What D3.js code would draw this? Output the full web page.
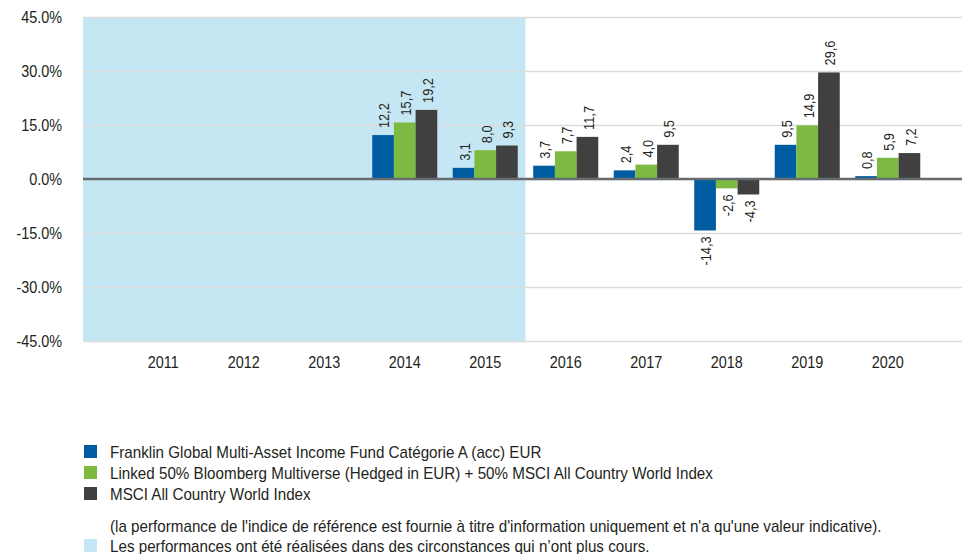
<!DOCTYPE html>
<html>
<head>
<meta charset="utf-8">
<script src="https://cdnjs.cloudflare.com/ajax/libs/d3/7.8.5/d3.min.js"></script>
<style>
	body { margin: 0; background: #fff; }
	text { font-family: "Liberation Sans", Arial, sans-serif; fill: #231f20; }
</style>
</head>
<body>
<svg></svg>
<script>
const years = ['2011', '2012', '2013', '2014', '2015', '2016', '2017', '2018', '2019', '2020'];
const fund = [null, null, null, 12.2, 3.1, 3.7, 2.4, -14.3, 9.5, 0.8];
const linked = [null, null, null, 15.7, 8.0, 7.7, 4.0, -2.6, 14.9, 5.9];
const msci = [null, null, null, 19.2, 9.3, 11.7, 9.5, -4.3, 29.6, 7.2];
const yTicks = [-45, -30, -15, 0, 15, 30, 45];
const shadedYears = ['2011', '2012', '2013', '2014', '2015'];

const seriesNames = [
	'Franklin Global Multi-Asset Income Fund Catégorie A (acc) EUR',
	'Linked 50% Bloomberg Multiverse (Hedged in EUR) + 50% MSCI All Country World Index',
	'MSCI All Country World Index'
];
const noteText = "(la performance de l'indice de référence est fournie à titre d'information uniquement et n'a qu'une valeur indicative).";
const shadeText = 'Les performances ont été réalisées dans des circonstances qui n’ont plus cours.';

const colors = ['#005ca1', '#7dba41', '#404040'];
const shadeColor = '#c5e7f3';

const svg = d3.select('svg')
	.attr('width', 962)
	.attr('height', 554);

const width = +svg.attr('width'),
	plotLeft = 83,
	plotRight = width,
	squeeze = 0.9, // axis text in the original is a bit condensed
	legendSqueeze = 0.95;

const series = [fund, linked, msci];
const data = years.map((year, i) => ({
	year,
	values: series.map((s, k) => ({ key: k, value: s[i] }))
}));

const fmt = v => d3.format('.1f')(v).replace('−', '-');

const xScale = d3.scaleBand()
	.domain(years)
	.range([plotLeft + 40, plotLeft + 40 + 80.5 * years.length]);

const xSub = d3.scaleBand()
	.domain([0, 1, 2])
	.range([0, xScale.bandwidth()])
	.paddingOuter(0.357);

const yScale = d3.scaleLinear()
	.domain([-45, 45])
	.range([341, 17]);

// shaded period
svg.append('rect')
	.attr('x', plotLeft)
	.attr('y', yScale(45))
	.attr('width', xScale(shadedYears[shadedYears.length - 1]) + xScale.bandwidth() - plotLeft)
	.attr('height', yScale(-45) - yScale(45))
	.attr('fill', shadeColor);

// grid + y labels
const yAxis = d3.axisLeft(yScale)
	.tickValues(yTicks)
	.tickFormat(d => fmt(d) + '%')
	.tickSize(-(plotRight - plotLeft));

const yAxisG = svg.append('g')
	.attr('transform', `translate(${plotLeft},0)`)
	.call(yAxis);
yAxisG.select('.domain').remove();
yAxisG.selectAll('.tick line')
	.attr('stroke', '#dcdcdc')
	.attr('stroke-width', 1.5);
yAxisG.selectAll('.tick text')
	.attr('x', -21 / squeeze)
	.attr('transform', `scale(${squeeze},1)`)
	.style('font-size', '16px')
	.attr('fill', '#231f20');

// bars
const groups = svg.selectAll('.year')
	.data(data)
	.join('g')
	.attr('class', 'year')
	.attr('transform', d => `translate(${xScale(d.year)},0)`);

const present = d => d.values.filter(v => v.value !== null);

groups.selectAll('rect')
	.data(present)
	.join('rect')
	.attr('x', v => xSub(v.key))
	.attr('width', xSub.bandwidth())
	.attr('y', v => yScale(Math.max(0, v.value)))
	.attr('height', v => Math.abs(yScale(v.value) - yScale(0)))
	.attr('fill', v => colors[v.key]);

groups.selectAll('text.val')
	.data(present)
	.join('text')
	.attr('class', 'val')
	.attr('transform', v => {
		const cx = xSub(v.key) + xSub.bandwidth() / 2 + 1;
		const cy = v.value >= 0 ? yScale(v.value) - 7 : yScale(v.value) + 6;
		return `translate(${cx},${cy}) rotate(-90) scale(0.85,1)`;
	})
	.attr('text-anchor', v => v.value >= 0 ? 'start' : 'end')
	.attr('dominant-baseline', 'central')
	.style('font-size', '15px')
	.text(v => fmt(v.value).replace('.', ','));

// zero line
svg.append('line')
	.attr('x1', plotLeft)
	.attr('x2', plotRight)
	.attr('y1', yScale(0))
	.attr('y2', yScale(0))
	.attr('stroke', '#656b6f')
	.attr('stroke-width', 2.5);

// x labels
const xAxis = d3.axisBottom(xScale)
	.tickSize(0)
	.tickPadding(16);

const xAxisG = svg.append('g')
	.attr('transform', `translate(0,${yScale(-45)})`)
	.call(xAxis);
xAxisG.select('.domain').remove();
xAxisG.selectAll('.tick text')
	.attr('transform', `scale(${squeeze},1)`)
	.style('font-size', '16px')
	.attr('fill', '#231f20');

// legend
const legendRows = [
	{ text: seriesNames[0], color: colors[0], y: 452 },
	{ text: seriesNames[1], color: colors[1], y: 473 },
	{ text: seriesNames[2], color: colors[2], y: 494 },
	{ text: noteText, color: null, y: 526 },
	{ text: shadeText, color: shadeColor, y: 546 }
];

const legend = svg.append('g');
legend.selectAll('rect')
	.data(legendRows.filter(d => d.color))
	.join('rect')
	.attr('x', 84)
	.attr('y', d => d.y - 7)
	.attr('width', 13)
	.attr('height', 13)
	.attr('fill', d => d.color);

legend.append('g')
	.attr('transform', `translate(110,0) scale(${legendSqueeze},1)`)
	.selectAll('text')
	.data(legendRows)
	.join('text')
	.attr('x', 0)
	.attr('y', d => d.y)
	.attr('dominant-baseline', 'central')
	.style('font-size', '16px')
	.text(d => d.text);
</script>
</body>
</html>
